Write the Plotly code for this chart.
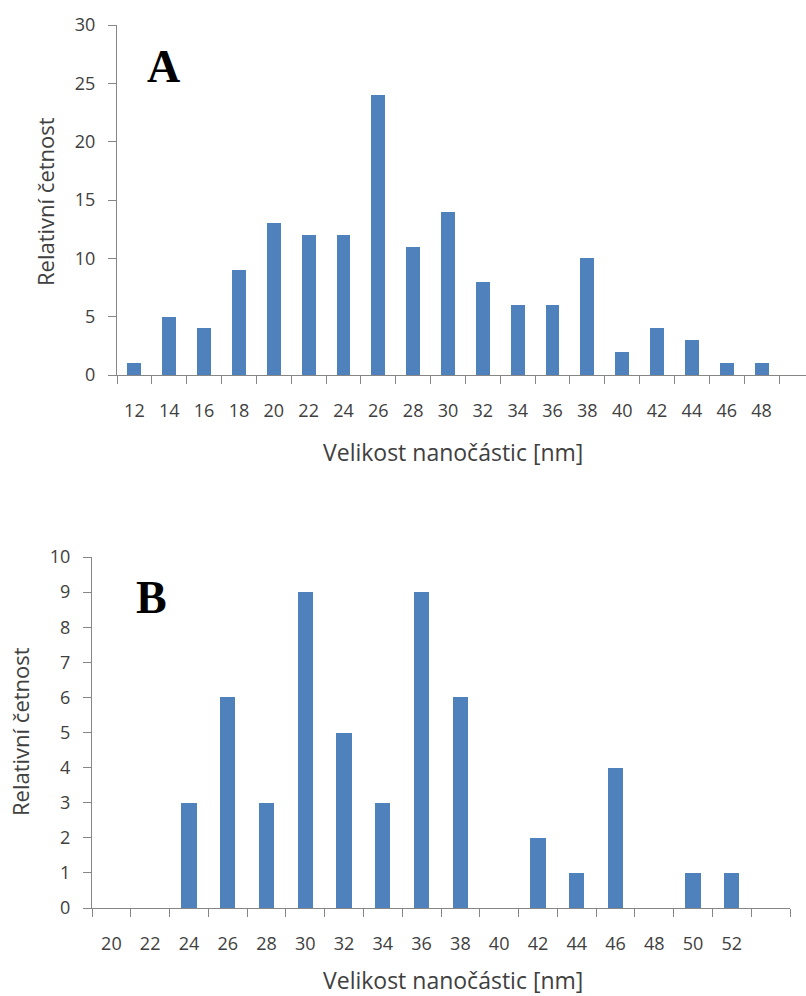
import plotly.graph_objects as go

# ---- data ----
sizes_a = [12, 14, 16, 18, 20, 22, 24, 26, 28, 30, 32, 34, 36, 38, 40, 42, 44, 46, 48]
counts_a = [1, 5, 4, 9, 13, 12, 12, 24, 11, 14, 8, 6, 6, 10, 2, 4, 3, 1, 1]

sizes_b = [20, 22, 24, 26, 28, 30, 32, 34, 36, 38, 40, 42, 44, 46, 48, 50, 52]
counts_b = [0, 0, 3, 6, 3, 9, 5, 3, 9, 6, 0, 2, 1, 4, 0, 1, 1]

yticks_a = [0, 5, 10, 15, 20, 25, 30]
yticks_b = list(range(0, 11))

x_title = "Velikost nanočástic [nm]"
y_title = "Relativní četnost"

BAR = "#4F81BD"
AXIS = "#868686"
TXT = "#404040"
FONT = "Open Sans"
W, H = 806, 996

fig = go.Figure()
fig.add_trace(go.Bar(x=sizes_a, y=counts_a, width=0.8, marker_color=BAR,
                     marker_line_width=0, xaxis="x", yaxis="y", showlegend=False))
fig.add_trace(go.Bar(x=sizes_b, y=counts_b, width=0.78, marker_color=BAR,
                     marker_line_width=0, xaxis="x2", yaxis="y2", showlegend=False))


def px_x(p):
    return p / W


def px_y(p):
    return 1 - p / H


common_x = dict(showgrid=False, zeroline=False, showline=True, linecolor=AXIS, linewidth=1,
                automargin=False,
                ticks="outside", ticklen=19, tickcolor="rgba(0,0,0,0)",
                tickfont=dict(family=FONT, size=18, color=TXT),
                minor=dict(ticks="outside", ticklen=8, tickcolor=AXIS, tickwidth=1, dtick=2,
                           showgrid=False))
common_y = dict(showgrid=False, zeroline=False, showline=True, linecolor=AXIS, linewidth=1,
                automargin=False,
                ticks="outside", ticklen=8, tickcolor=AXIS, ticklabelstandoff=9,
                tickfont=dict(family=FONT, size=18, color=TXT))

fig.update_layout(
    width=W, height=H,
    margin=dict(l=0, r=0, t=0, b=0, pad=0, autoexpand=False),
    paper_bgcolor="white", plot_bgcolor="white",
    bargap=0,
    xaxis=dict(common_x, domain=[px_x(117), 1.0], range=[11, 50.55],
               tickmode="array", tickvals=sizes_a, ticktext=[str(s) for s in sizes_a],
               anchor="y", minor=dict(common_x["minor"], tick0=11)),
    yaxis=dict(common_y, domain=[px_y(375), px_y(25)], range=[0, 30],
               tickmode="array", tickvals=yticks_a, anchor="x"),
    xaxis2=dict(common_x, domain=[px_x(92), px_x(790)], range=[19, 55],
                tickmode="array", tickvals=sizes_b, ticktext=[str(s) for s in sizes_b],
                anchor="y2", minor=dict(common_x["minor"], tick0=19)),
    yaxis2=dict(common_y, domain=[px_y(908), px_y(557)], range=[0, 10],
                tickmode="array", tickvals=yticks_b, anchor="x2"),
)

ann = []
common_ann = dict(xref="paper", yref="paper", showarrow=False, xanchor="center", yanchor="middle")
# axis titles
ann.append(dict(common_ann, text=x_title, x=px_x(453), y=px_y(452),
                font=dict(family=FONT, size=23, color=TXT)))
ann.append(dict(common_ann, text=x_title, x=px_x(453), y=px_y(980),
                font=dict(family=FONT, size=23, color=TXT)))
ann.append(dict(common_ann, text=y_title, x=px_x(45), y=px_y(202), textangle=-90,
                font=dict(family=FONT, size=22, color=TXT)))
ann.append(dict(common_ann, text=y_title, x=px_x(20), y=px_y(732), textangle=-90,
                font=dict(family=FONT, size=22, color=TXT)))
# panel letters
ann.append(dict(common_ann, text="<b>A</b>", x=px_x(163), y=px_y(66),
                font=dict(family="Liberation Serif", size=46, color="black")))
ann.append(dict(common_ann, text="<b>B</b>", x=px_x(151), y=px_y(597),
                font=dict(family="Liberation Serif", size=46, color="black")))
fig.update_layout(annotations=ann)

fig.write_html("out.html", config={"displayModeBar": False},
               post_script="document.body.style.margin='0';")
